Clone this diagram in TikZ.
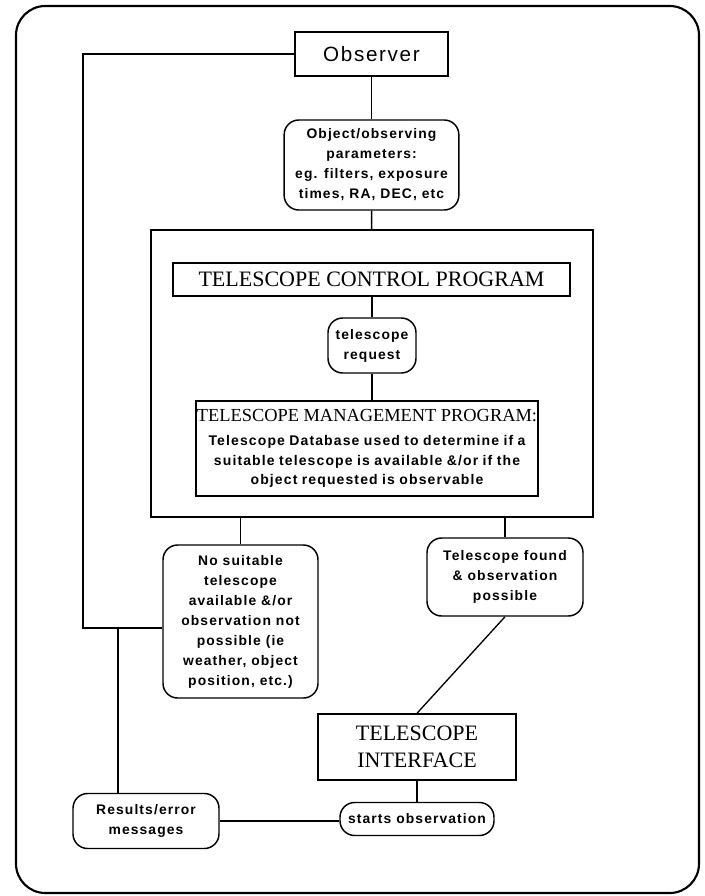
\documentclass[tikz,border=0pt]{standalone}
\usepackage{fontspec}
\setmainfont{Liberation Serif}
\setsansfont{Liberation Sans}
\newfontfamily\labelfont[LetterSpace=8]{Liberation Sans}
\usepackage{tikz}
\usetikzlibrary{positioning,calc}

\begin{document}
\begin{tikzpicture}[
    x=0.75pt, y=-0.75pt,
    square/.style={rectangle, draw, line width=1.1pt, inner sep=0pt, align=center},
    rounded/.style={rectangle, draw, line width=1.1pt, inner sep=0pt, align=center,
                    rounded corners=11pt, font=\labelfont\bfseries\fontsize{10.4}{15}\selectfont},
    title/.style={font=\rmfamily\fontsize{16.5}{20}\selectfont},
    link/.style={line width=1pt},
    frame/.style={line width=1.6pt, rounded corners=22pt}
]
\useasboundingbox (0,0) rectangle (704,896);
\draw[frame] (16,6) rectangle (699,893);

\node[square, minimum width=114.75pt, minimum height=33pt,
      font=\labelfont\fontsize{15.5}{18}\selectfont] (obs) at (371.5,54) {Observer};
\node[rounded, minimum width=131pt, minimum height=67.5pt] (param) at (371.5,165)
    {Object/observing\\parameters:\\eg. filters, exposure\\times, RA, DEC, etc};
\node[square, minimum width=331.5pt, minimum height=215.25pt] (tcp) at (372,373.5) {};
\node[square, title, minimum width=297.75pt, minimum height=24.75pt] (tcptitle) at (371.5,279.5)
    {TELESCOPE CONTROL PROGRAM};
\node[rounded, minimum width=66pt, minimum height=41.25pt] (req) at (372,345.5)
    {telescope\\request};
\node[square, minimum width=256.5pt, minimum height=71.25pt, text width=256pt] (tmp) at (367,448.5)
    {\rmfamily\fontsize{13.8}{14.4}\selectfont TELESCOPE MANAGEMENT PROGRAM:\\[3.6pt]
     \labelfont\bfseries\fontsize{10.5}{14.4}\selectfont Telescope Database used to determine if a\\
     suitable telescope is available \&/or if the\\object requested is observable\par};
\node[rounded, minimum width=116.25pt, minimum height=114.75pt] (nofit) at (240.5,621.5)
    {No suitable\\telescope\\available \&/or\\observation not\\possible (ie\\weather, object\\position, etc.)};
\node[rounded, minimum width=117pt, minimum height=58.5pt] (found) at (505,577)
    {Telescope found\\\& observation\\possible};
\node[square, title, minimum width=148.5pt, minimum height=49.5pt] (ti) at (417,747)
    {TELESCOPE\\INTERFACE};
\node[rounded, minimum width=115.5pt, minimum height=24.75pt] (start) at (417,819)
    {starts observation};
\node[rounded, minimum width=109.5pt, minimum height=41.25pt] (results) at (146,821)
    {Results/error\\messages};

\coordinate (turn) at (83,628);
\coordinate (tap) at (118,628);

\draw[link] (obs) -- (param);
\draw[link] (param) -- (tcp);
\draw[link] (tcptitle.south -| req.north) -- (req.north);
\draw[link] (req.south) -- (req.south |- tmp.north);
\draw[link] (nofit.north) -- (nofit.north |- tcp.south);
\draw[link] (found.north) -- (found.north |- tcp.south);
\draw[link] (found.south) -- (ti.north);
\draw[link] (ti) -- (start);
\draw[link] (obs.west) -| (turn) -- (turn -| nofit.west);
\draw[line width=0.8pt] (tap) -- (tap |- results.north);
\draw[link] (results.east) -- (results.east -| start.west);
\end{tikzpicture}
\end{document}
